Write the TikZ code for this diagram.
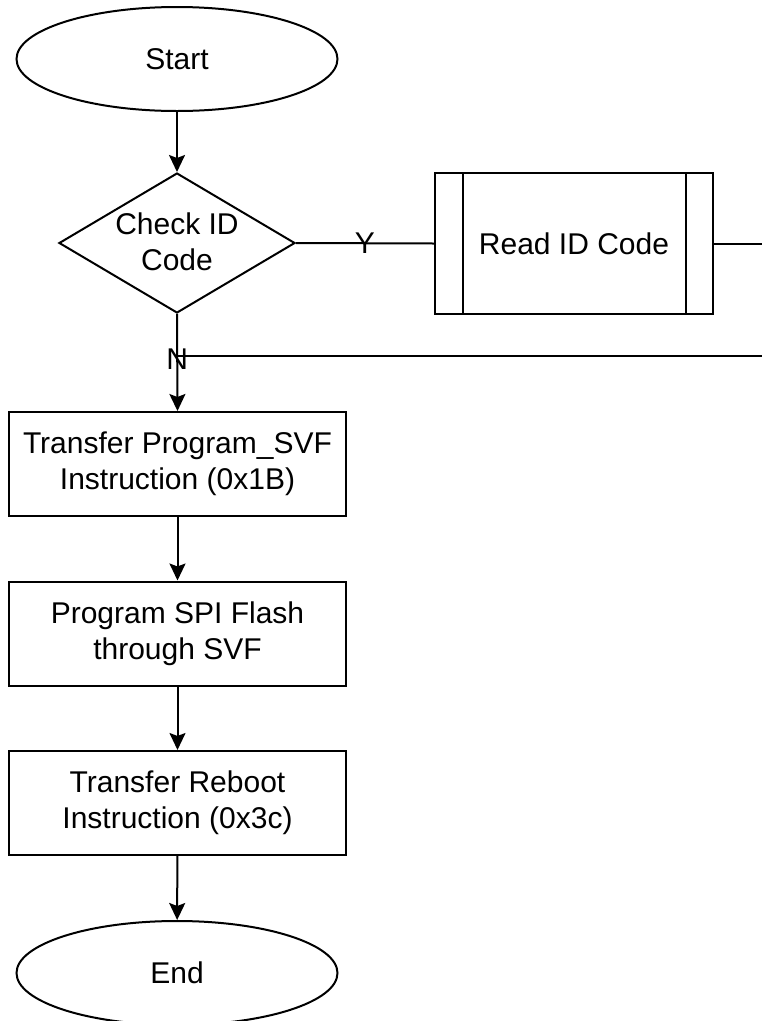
\documentclass[tikz,border=0pt]{standalone}
\usepackage{fontspec}
\setmainfont{Liberation Sans}
\usetikzlibrary{shapes.geometric,arrows.meta}
\begin{document}
\begin{tikzpicture}[x=1pt,y=-1pt,
  every node/.style={font=\fontsize{30}{36}\selectfont, inner sep=0pt},
  line/.style={line width=2pt, black},
  arr/.style={line, -{Stealth[length=17pt,width=16pt,inset=3pt]}},
  term/.style={ellipse, draw, line width=2pt, minimum width=321pt, minimum height=104pt},
  decision/.style={diamond, draw, line width=2pt, aspect=1.686, minimum width=236pt, minimum height=140pt},
  proc/.style={rectangle, draw, line width=2pt, minimum width=337pt, minimum height=104pt, align=center},
  subproc/.style={rectangle, draw, line width=2pt, minimum width=278pt, minimum height=141pt},
  lbl/.style={font=\fontsize{30}{36}\selectfont}
]
\useasboundingbox (0,0) rectangle (762,1021);

\node[term] (start) at (177,59) {Start};
\node[decision] (chk) at (177,243) {};
\node[align=center] (chktxt) at (177,242) {Check ID\\Code};
\node[subproc] (rd) at (574,243.5) {Read ID Code};
\draw[line] ([xshift=29pt]rd.north west) -- ([xshift=29pt]rd.south west);
\draw[line] ([xshift=-28pt]rd.north east) -- ([xshift=-28pt]rd.south east);

\node[proc] (b1) at (177.5,464) {Transfer Program\_SVF\\Instruction (0x1B)};
\node[proc] (b2) at (177.5,633.5) {Program SPI Flash\\through SVF};
\node[proc] (b3) at (177.5,803) {Transfer Reboot\\Instruction (0x3c)};
\node[term] (end) at (177,973) {End};

\coordinate (rout) at (762,243.5);
\coordinate (rin) at (762,356);

\draw[arr] (start) -- (chk.north);
\draw[line] (chk.east) -- node[lbl] {Y} (rd.west);
\draw[line] (rd.east) -- (rout);
\draw[arr] (chk.south) -- node[lbl, pos=0.47] {N} (b1.north);
\draw[line] (rin) -- (rin -| chk.south);
\draw[arr] (b1) -- (b2);
\draw[arr] (b2) -- (b3);
\draw[arr] (b3) -- (end);
\end{tikzpicture}
\end{document}
